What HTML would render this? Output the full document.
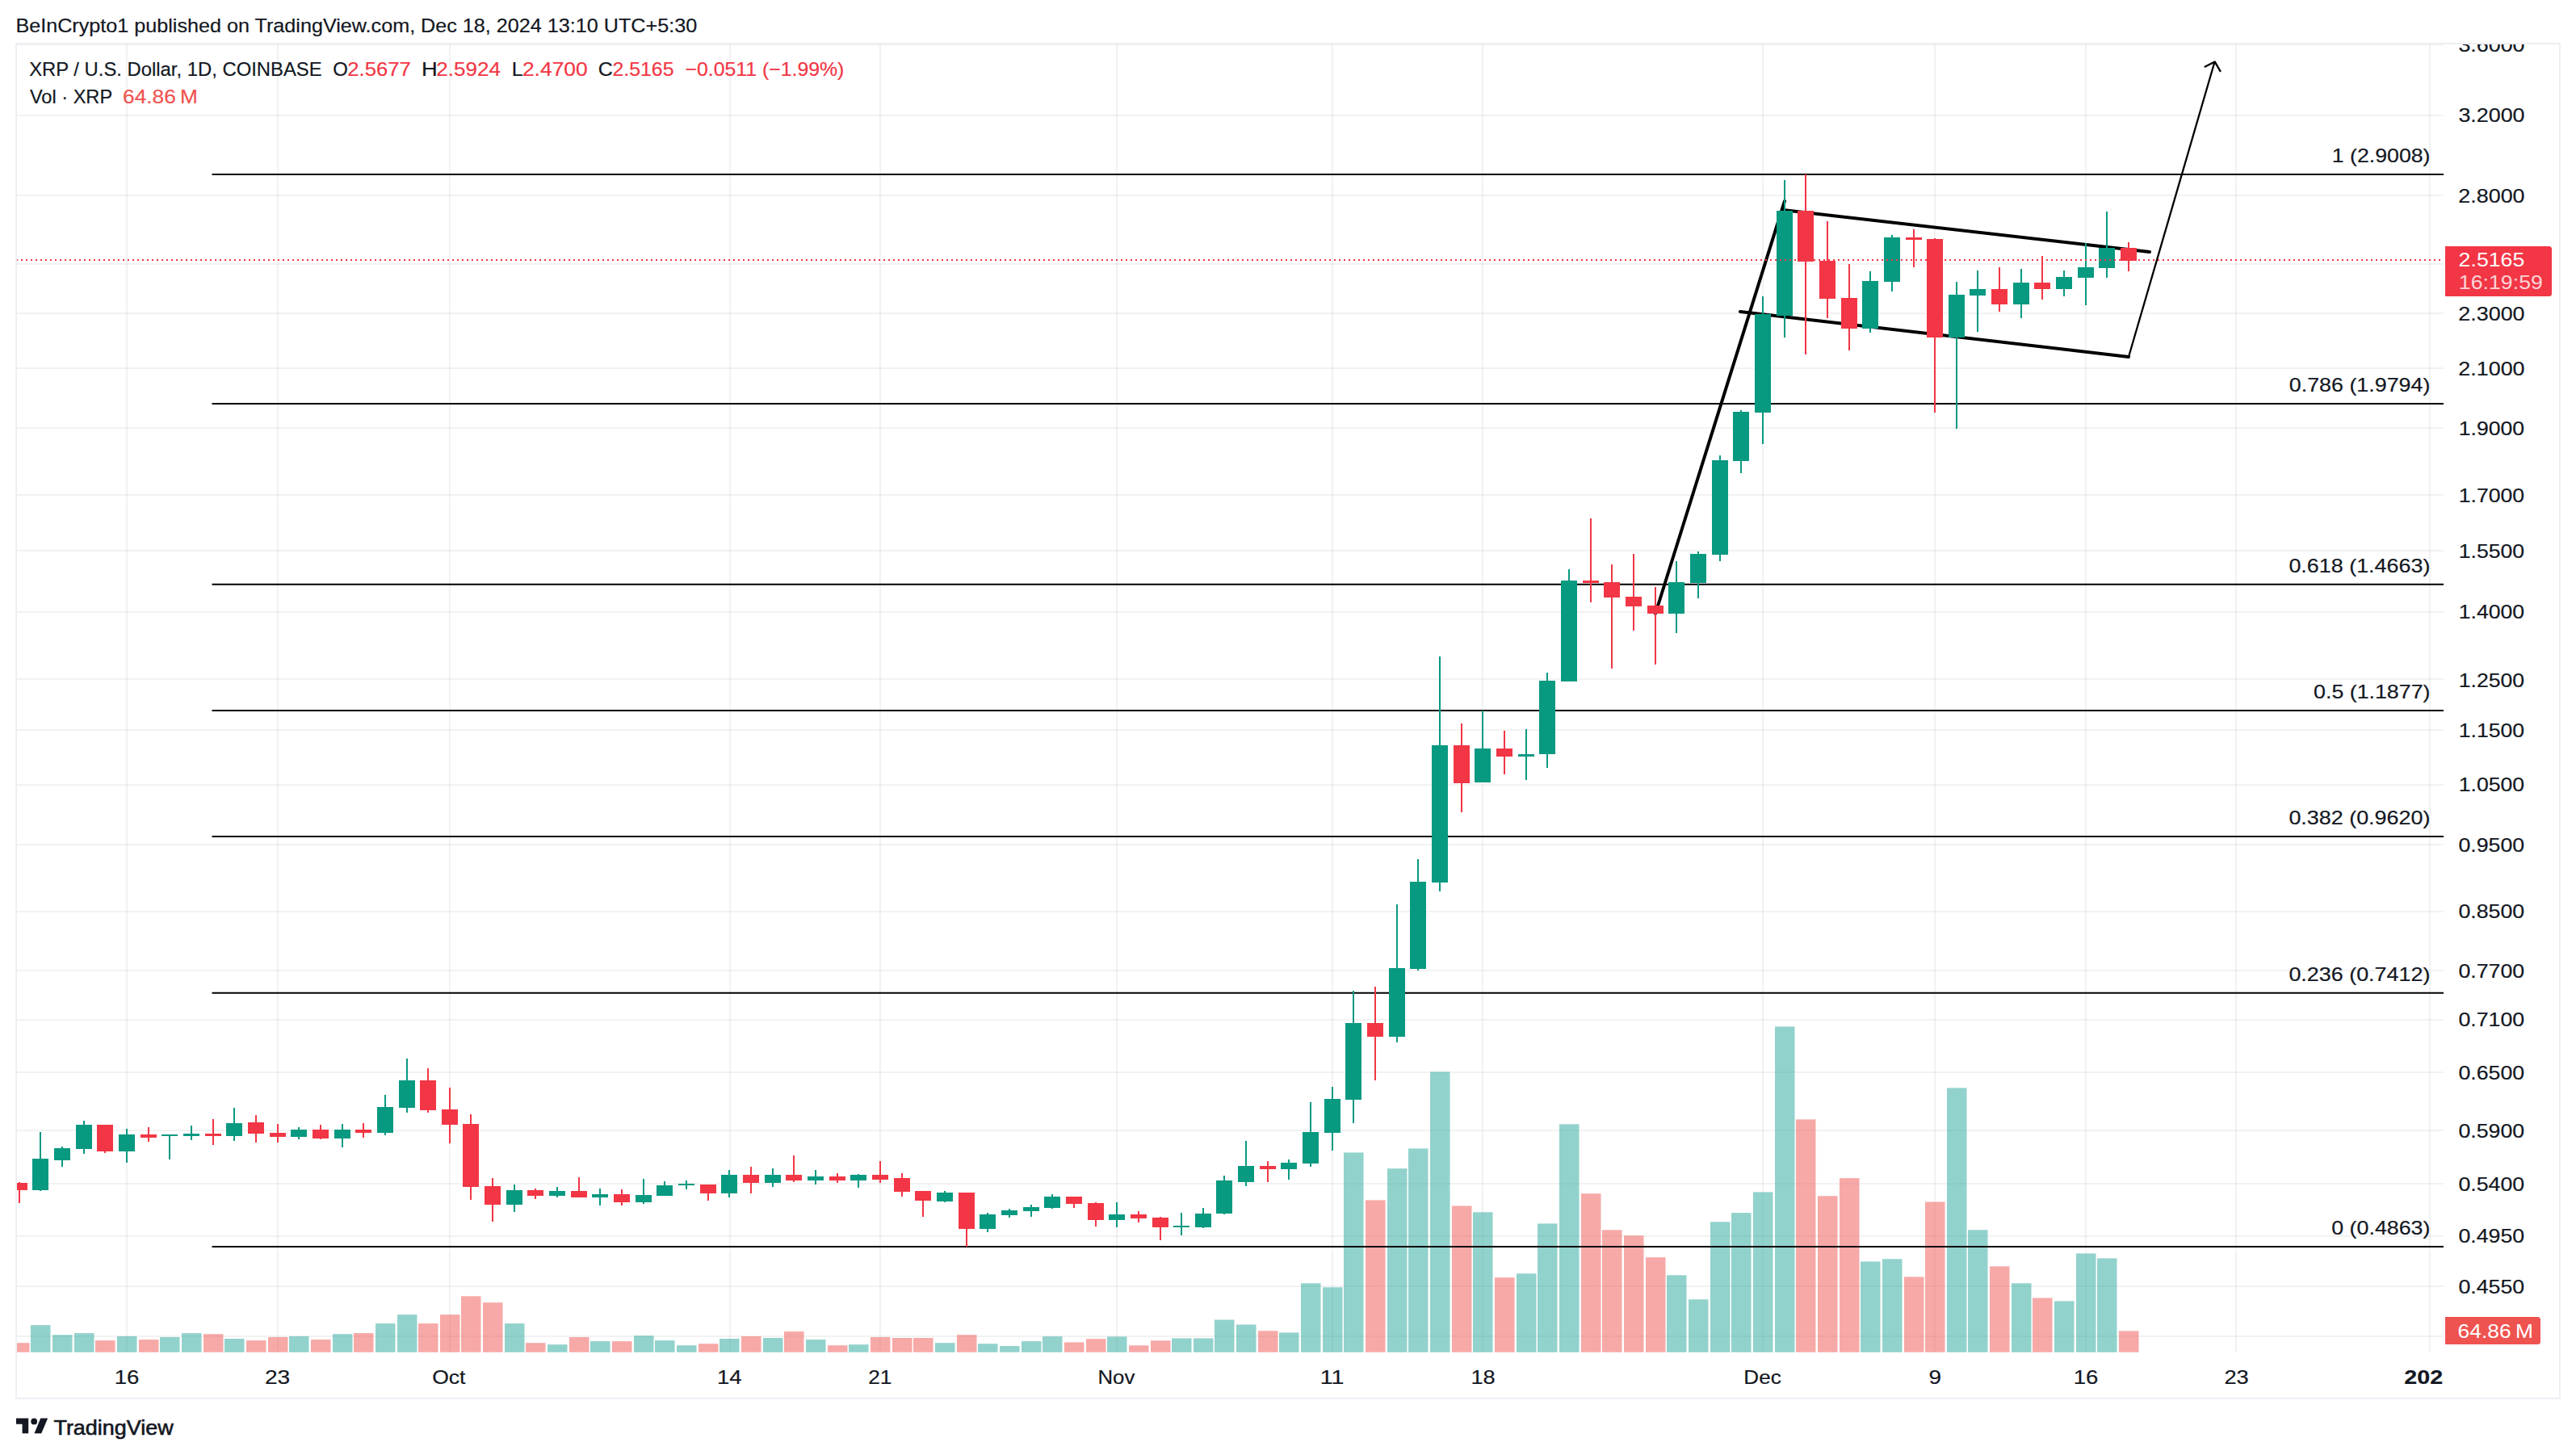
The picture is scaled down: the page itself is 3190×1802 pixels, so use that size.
<!DOCTYPE html>
<html lang="en"><head><meta charset="utf-8"><title>XRP / U.S. Dollar chart</title><style>html,body{margin:0;padding:0;background:#fff}svg{display:block}</style></head><body>
<svg width="3190" height="1802" viewBox="0 0 3190 1802" font-family="'Liberation Sans', sans-serif" font-size="24.5" fill="#131722" shape-rendering="auto">
<style>text{stroke-width:0.2px;stroke:#131722}.r{fill:#f23645;stroke:#f23645}.v{fill:#ef5350;stroke:#ef5350}.w{fill:#fff;stroke:none}</style>
<rect width="3190" height="1802" fill="#fff"/>
<defs><clipPath id="pane"><rect x="20" y="55" width="3006" height="1620"/></clipPath><clipPath id="axis"><rect x="3026" y="55" width="144" height="1620"/></clipPath><clipPath id="taxis"><rect x="20" y="1675" width="3006" height="57"/></clipPath></defs>
<g stroke="#1e2a2a" stroke-opacity="0.06" stroke-width="2.2" clip-path="url(#pane)">
<line x1="20" y1="55.2" x2="3026" y2="55.2"/>
<line x1="20" y1="143" x2="3026" y2="143"/>
<line x1="20" y1="242" x2="3026" y2="242"/>
<line x1="20" y1="327" x2="3026" y2="327"/>
<line x1="20" y1="388" x2="3026" y2="388"/>
<line x1="20" y1="456" x2="3026" y2="456"/>
<line x1="20" y1="530" x2="3026" y2="530"/>
<line x1="20" y1="613" x2="3026" y2="613"/>
<line x1="20" y1="682" x2="3026" y2="682"/>
<line x1="20" y1="758" x2="3026" y2="758"/>
<line x1="20" y1="841" x2="3026" y2="841"/>
<line x1="20" y1="904" x2="3026" y2="904"/>
<line x1="20" y1="972" x2="3026" y2="972"/>
<line x1="20" y1="1046" x2="3026" y2="1046"/>
<line x1="20" y1="1129" x2="3026" y2="1129"/>
<line x1="20" y1="1202" x2="3026" y2="1202"/>
<line x1="20" y1="1263" x2="3026" y2="1263"/>
<line x1="20" y1="1328" x2="3026" y2="1328"/>
<line x1="20" y1="1400" x2="3026" y2="1400"/>
<line x1="20" y1="1466" x2="3026" y2="1466"/>
<line x1="20" y1="1531" x2="3026" y2="1531"/>
<line x1="20" y1="1593" x2="3026" y2="1593"/>
<line x1="20" y1="1655" x2="3026" y2="1655"/>
<line x1="157" y1="55" x2="157" y2="1675"/>
<line x1="344" y1="55" x2="344" y2="1675"/>
<line x1="557" y1="55" x2="557" y2="1675"/>
<line x1="904" y1="55" x2="904" y2="1675"/>
<line x1="1090" y1="55" x2="1090" y2="1675"/>
<line x1="1383" y1="55" x2="1383" y2="1675"/>
<line x1="1650" y1="55" x2="1650" y2="1675"/>
<line x1="1836" y1="55" x2="1836" y2="1675"/>
<line x1="2183" y1="55" x2="2183" y2="1675"/>
<line x1="2396" y1="55" x2="2396" y2="1675"/>
<line x1="2583" y1="55" x2="2583" y2="1675"/>
<line x1="2769" y1="55" x2="2769" y2="1675"/>
<line x1="3009" y1="55" x2="3009" y2="1675"/>
</g>
<g clip-path="url(#pane)">
<rect x="12" y="1663.2" width="24.5" height="11.5" fill="rgba(239,83,80,0.5)"/>
<rect x="38" y="1641.1" width="24.5" height="33.6" fill="rgba(38,166,154,0.5)"/>
<rect x="65" y="1653.2" width="24.5" height="21.5" fill="rgba(38,166,154,0.5)"/>
<rect x="92" y="1651.1" width="24.5" height="23.6" fill="rgba(38,166,154,0.5)"/>
<rect x="118" y="1660.1" width="24.5" height="14.6" fill="rgba(239,83,80,0.5)"/>
<rect x="145" y="1655.0" width="24.5" height="19.7" fill="rgba(38,166,154,0.5)"/>
<rect x="172" y="1659.1" width="24.5" height="15.6" fill="rgba(239,83,80,0.5)"/>
<rect x="198" y="1656.0" width="24.5" height="18.7" fill="rgba(38,166,154,0.5)"/>
<rect x="225" y="1651.1" width="24.5" height="23.6" fill="rgba(38,166,154,0.5)"/>
<rect x="252" y="1652.2" width="24.5" height="22.5" fill="rgba(239,83,80,0.5)"/>
<rect x="278" y="1658.0" width="24.5" height="16.7" fill="rgba(38,166,154,0.5)"/>
<rect x="305" y="1660.1" width="24.5" height="14.6" fill="rgba(239,83,80,0.5)"/>
<rect x="332" y="1656.0" width="24.5" height="18.7" fill="rgba(239,83,80,0.5)"/>
<rect x="358" y="1655.0" width="24.5" height="19.7" fill="rgba(38,166,154,0.5)"/>
<rect x="385" y="1659.1" width="24.5" height="15.6" fill="rgba(239,83,80,0.5)"/>
<rect x="412" y="1652.2" width="24.5" height="22.5" fill="rgba(38,166,154,0.5)"/>
<rect x="438" y="1651.1" width="24.5" height="23.6" fill="rgba(239,83,80,0.5)"/>
<rect x="465" y="1639.1" width="24.5" height="35.6" fill="rgba(38,166,154,0.5)"/>
<rect x="492" y="1628.1" width="24.5" height="46.6" fill="rgba(38,166,154,0.5)"/>
<rect x="518" y="1639.1" width="24.5" height="35.6" fill="rgba(239,83,80,0.5)"/>
<rect x="545" y="1628.1" width="24.5" height="46.6" fill="rgba(239,83,80,0.5)"/>
<rect x="571" y="1605.3" width="24.5" height="69.4" fill="rgba(239,83,80,0.5)"/>
<rect x="598" y="1613.2" width="24.5" height="61.5" fill="rgba(239,83,80,0.5)"/>
<rect x="625" y="1639.1" width="24.5" height="35.6" fill="rgba(38,166,154,0.5)"/>
<rect x="651" y="1663.2" width="24.5" height="11.5" fill="rgba(239,83,80,0.5)"/>
<rect x="678" y="1665.2" width="24.5" height="9.5" fill="rgba(38,166,154,0.5)"/>
<rect x="705" y="1656.0" width="24.5" height="18.7" fill="rgba(239,83,80,0.5)"/>
<rect x="731" y="1661.1" width="24.5" height="13.6" fill="rgba(38,166,154,0.5)"/>
<rect x="758" y="1661.1" width="24.5" height="13.6" fill="rgba(239,83,80,0.5)"/>
<rect x="785" y="1654.2" width="24.5" height="20.5" fill="rgba(38,166,154,0.5)"/>
<rect x="811" y="1660.1" width="24.5" height="14.6" fill="rgba(38,166,154,0.5)"/>
<rect x="838" y="1666.2" width="24.5" height="8.5" fill="rgba(38,166,154,0.5)"/>
<rect x="865" y="1664.2" width="24.5" height="10.5" fill="rgba(239,83,80,0.5)"/>
<rect x="891" y="1658.0" width="24.5" height="16.7" fill="rgba(38,166,154,0.5)"/>
<rect x="918" y="1655.0" width="24.5" height="19.7" fill="rgba(239,83,80,0.5)"/>
<rect x="945" y="1657.0" width="24.5" height="17.7" fill="rgba(38,166,154,0.5)"/>
<rect x="971" y="1649.1" width="24.5" height="25.6" fill="rgba(239,83,80,0.5)"/>
<rect x="998" y="1659.1" width="24.5" height="15.6" fill="rgba(38,166,154,0.5)"/>
<rect x="1025" y="1666.2" width="24.5" height="8.5" fill="rgba(239,83,80,0.5)"/>
<rect x="1051" y="1665.2" width="24.5" height="9.5" fill="rgba(38,166,154,0.5)"/>
<rect x="1078" y="1656.0" width="24.5" height="18.7" fill="rgba(239,83,80,0.5)"/>
<rect x="1105" y="1657.0" width="24.5" height="17.7" fill="rgba(239,83,80,0.5)"/>
<rect x="1131" y="1657.0" width="24.5" height="17.7" fill="rgba(239,83,80,0.5)"/>
<rect x="1158" y="1663.2" width="24.5" height="11.5" fill="rgba(38,166,154,0.5)"/>
<rect x="1185" y="1653.2" width="24.5" height="21.5" fill="rgba(239,83,80,0.5)"/>
<rect x="1211" y="1664.2" width="24.5" height="10.5" fill="rgba(38,166,154,0.5)"/>
<rect x="1238" y="1667.0" width="24.5" height="7.7" fill="rgba(38,166,154,0.5)"/>
<rect x="1265" y="1661.1" width="24.5" height="13.6" fill="rgba(38,166,154,0.5)"/>
<rect x="1291" y="1655.2" width="24.5" height="19.5" fill="rgba(38,166,154,0.5)"/>
<rect x="1318" y="1662.4" width="24.5" height="12.3" fill="rgba(239,83,80,0.5)"/>
<rect x="1345" y="1658.2" width="24.5" height="16.5" fill="rgba(239,83,80,0.5)"/>
<rect x="1371" y="1655.4" width="24.5" height="19.3" fill="rgba(38,166,154,0.5)"/>
<rect x="1398" y="1666.3" width="24.5" height="8.4" fill="rgba(239,83,80,0.5)"/>
<rect x="1425" y="1660.3" width="24.5" height="14.4" fill="rgba(239,83,80,0.5)"/>
<rect x="1451" y="1657.5" width="24.5" height="17.2" fill="rgba(38,166,154,0.5)"/>
<rect x="1478" y="1657.5" width="24.5" height="17.2" fill="rgba(38,166,154,0.5)"/>
<rect x="1504" y="1634.5" width="24.5" height="40.2" fill="rgba(38,166,154,0.5)"/>
<rect x="1531" y="1640.5" width="24.5" height="34.2" fill="rgba(38,166,154,0.5)"/>
<rect x="1558" y="1648.3" width="24.5" height="26.4" fill="rgba(239,83,80,0.5)"/>
<rect x="1584" y="1650.4" width="24.5" height="24.3" fill="rgba(38,166,154,0.5)"/>
<rect x="1611" y="1589.3" width="24.5" height="85.4" fill="rgba(38,166,154,0.5)"/>
<rect x="1638" y="1594.3" width="24.5" height="80.4" fill="rgba(38,166,154,0.5)"/>
<rect x="1664" y="1427.4" width="24.5" height="247.3" fill="rgba(38,166,154,0.5)"/>
<rect x="1691" y="1486.4" width="24.5" height="188.3" fill="rgba(239,83,80,0.5)"/>
<rect x="1718" y="1447.2" width="24.5" height="227.5" fill="rgba(38,166,154,0.5)"/>
<rect x="1744" y="1422.4" width="24.5" height="252.3" fill="rgba(38,166,154,0.5)"/>
<rect x="1771" y="1327.4" width="24.5" height="347.3" fill="rgba(38,166,154,0.5)"/>
<rect x="1798" y="1493.5" width="24.5" height="181.2" fill="rgba(239,83,80,0.5)"/>
<rect x="1824" y="1501.3" width="24.5" height="173.4" fill="rgba(38,166,154,0.5)"/>
<rect x="1851" y="1582.2" width="24.5" height="92.5" fill="rgba(239,83,80,0.5)"/>
<rect x="1878" y="1577.3" width="24.5" height="97.4" fill="rgba(38,166,154,0.5)"/>
<rect x="1904" y="1515.4" width="24.5" height="159.3" fill="rgba(38,166,154,0.5)"/>
<rect x="1931" y="1392.3" width="24.5" height="282.4" fill="rgba(38,166,154,0.5)"/>
<rect x="1958" y="1478.2" width="24.5" height="196.5" fill="rgba(239,83,80,0.5)"/>
<rect x="1984" y="1523.3" width="24.5" height="151.4" fill="rgba(239,83,80,0.5)"/>
<rect x="2011" y="1530.3" width="24.5" height="144.4" fill="rgba(239,83,80,0.5)"/>
<rect x="2038" y="1557.2" width="24.5" height="117.5" fill="rgba(239,83,80,0.5)"/>
<rect x="2064" y="1579.3" width="24.5" height="95.4" fill="rgba(38,166,154,0.5)"/>
<rect x="2091" y="1609.3" width="24.5" height="65.4" fill="rgba(38,166,154,0.5)"/>
<rect x="2118" y="1513.3" width="24.5" height="161.4" fill="rgba(38,166,154,0.5)"/>
<rect x="2144" y="1502.1" width="24.5" height="172.6" fill="rgba(38,166,154,0.5)"/>
<rect x="2171" y="1476.4" width="24.5" height="198.3" fill="rgba(38,166,154,0.5)"/>
<rect x="2198" y="1271.4" width="24.5" height="403.3" fill="rgba(38,166,154,0.5)"/>
<rect x="2224" y="1386.4" width="24.5" height="288.3" fill="rgba(239,83,80,0.5)"/>
<rect x="2251" y="1481.2" width="24.5" height="193.5" fill="rgba(239,83,80,0.5)"/>
<rect x="2278" y="1459.1" width="24.5" height="215.6" fill="rgba(239,83,80,0.5)"/>
<rect x="2304" y="1562.4" width="24.5" height="112.3" fill="rgba(38,166,154,0.5)"/>
<rect x="2331" y="1559.3" width="24.5" height="115.4" fill="rgba(38,166,154,0.5)"/>
<rect x="2358" y="1581.4" width="24.5" height="93.3" fill="rgba(239,83,80,0.5)"/>
<rect x="2384" y="1488.5" width="24.5" height="186.2" fill="rgba(239,83,80,0.5)"/>
<rect x="2411" y="1347.4" width="24.5" height="327.3" fill="rgba(38,166,154,0.5)"/>
<rect x="2437" y="1523.3" width="24.5" height="151.4" fill="rgba(38,166,154,0.5)"/>
<rect x="2464" y="1568.4" width="24.5" height="106.3" fill="rgba(239,83,80,0.5)"/>
<rect x="2491" y="1589.3" width="24.5" height="85.4" fill="rgba(38,166,154,0.5)"/>
<rect x="2517" y="1607.5" width="24.5" height="67.2" fill="rgba(239,83,80,0.5)"/>
<rect x="2544" y="1611.4" width="24.5" height="63.3" fill="rgba(38,166,154,0.5)"/>
<rect x="2571" y="1552.4" width="24.5" height="122.3" fill="rgba(38,166,154,0.5)"/>
<rect x="2597" y="1558.4" width="24.5" height="116.3" fill="rgba(38,166,154,0.5)"/>
<rect x="2624" y="1648.4" width="24.5" height="26.3" fill="rgba(239,83,80,0.5)"/>
</g>
<g clip-path="url(#pane)">
<line x1="262.5" y1="216" x2="3026" y2="216" stroke="#000" stroke-width="2"/>
<line x1="262.5" y1="500.1" x2="3026" y2="500.1" stroke="#000" stroke-width="2"/>
<line x1="262.5" y1="723.7" x2="3026" y2="723.7" stroke="#000" stroke-width="2"/>
<line x1="262.5" y1="879.9" x2="3026" y2="879.9" stroke="#000" stroke-width="2"/>
<line x1="262.5" y1="1036.1" x2="3026" y2="1036.1" stroke="#000" stroke-width="2"/>
<line x1="262.5" y1="1229.7" x2="3026" y2="1229.7" stroke="#000" stroke-width="2"/>
<line x1="262.5" y1="1544" x2="3026" y2="1544" stroke="#000" stroke-width="2"/>
</g>
<text x="2887.87" y="200.8" textLength="121.60" lengthAdjust="spacingAndGlyphs">1 (2.9008)</text>
<text x="2834.74" y="484.9" textLength="174.66" lengthAdjust="spacingAndGlyphs">0.786 (1.9794)</text>
<text x="2834.40" y="708.5" textLength="175.00" lengthAdjust="spacingAndGlyphs">0.618 (1.4663)</text>
<text x="2865.05" y="864.7" textLength="144.40" lengthAdjust="spacingAndGlyphs">0.5 (1.1877)</text>
<text x="2834.40" y="1020.9" textLength="175.00" lengthAdjust="spacingAndGlyphs">0.382 (0.9620)</text>
<text x="2834.40" y="1214.5" textLength="175.00" lengthAdjust="spacingAndGlyphs">0.236 (0.7412)</text>
<text x="2887.27" y="1528.8" textLength="122.15" lengthAdjust="spacingAndGlyphs">0 (0.4863)</text>
<g stroke="#000" fill="none" stroke-linecap="round" clip-path="url(#pane)">
<line x1="2050" y1="760" x2="2210" y2="249" stroke-width="4"/>
<line x1="2208" y1="260" x2="2662" y2="312" stroke-width="4"/>
<line x1="2155" y1="386" x2="2636" y2="442" stroke-width="4"/>
<line x1="2636" y1="442" x2="2742.4" y2="77" stroke-width="2.3"/>
<polyline points="2729.8,83.1 2742.7,76.4 2749.9,88.8" stroke-width="2.3" stroke-linejoin="round" stroke-linecap="butt"/>
</g>
<g clip-path="url(#pane)" shape-rendering="crispEdges">
<rect x="23" y="1464" width="2" height="26" fill="#f23645"/>
<rect x="14" y="1465" width="20" height="9" fill="#f23645"/>
<rect x="49" y="1402" width="2" height="73" fill="#089981"/>
<rect x="40" y="1435" width="20" height="39" fill="#089981"/>
<rect x="76" y="1420" width="2" height="25" fill="#089981"/>
<rect x="67" y="1422" width="20" height="15" fill="#089981"/>
<rect x="103" y="1388" width="2" height="41" fill="#089981"/>
<rect x="94" y="1393" width="20" height="30" fill="#089981"/>
<rect x="129" y="1393" width="2" height="35" fill="#f23645"/>
<rect x="120" y="1393" width="20" height="33" fill="#f23645"/>
<rect x="156" y="1398" width="2" height="42" fill="#089981"/>
<rect x="147" y="1405" width="20" height="21" fill="#089981"/>
<rect x="183" y="1396" width="2" height="18" fill="#f23645"/>
<rect x="174" y="1405" width="20" height="4" fill="#f23645"/>
<rect x="209" y="1405" width="2" height="31" fill="#089981"/>
<rect x="200" y="1405" width="20" height="2" fill="#089981"/>
<rect x="236" y="1394" width="2" height="18" fill="#089981"/>
<rect x="227" y="1404" width="20" height="3" fill="#089981"/>
<rect x="263" y="1386" width="2" height="32" fill="#f23645"/>
<rect x="254" y="1404" width="20" height="3" fill="#f23645"/>
<rect x="289" y="1372" width="2" height="41" fill="#089981"/>
<rect x="280" y="1391" width="20" height="16" fill="#089981"/>
<rect x="316" y="1381" width="2" height="34" fill="#f23645"/>
<rect x="307" y="1390" width="20" height="14" fill="#f23645"/>
<rect x="343" y="1392" width="2" height="23" fill="#f23645"/>
<rect x="334" y="1403" width="20" height="5" fill="#f23645"/>
<rect x="369" y="1396" width="2" height="15" fill="#089981"/>
<rect x="360" y="1399" width="20" height="9" fill="#089981"/>
<rect x="396" y="1393" width="2" height="18" fill="#f23645"/>
<rect x="387" y="1399" width="20" height="11" fill="#f23645"/>
<rect x="423" y="1392" width="2" height="29" fill="#089981"/>
<rect x="414" y="1399" width="20" height="11" fill="#089981"/>
<rect x="449" y="1391" width="2" height="18" fill="#f23645"/>
<rect x="440" y="1399" width="20" height="4" fill="#f23645"/>
<rect x="476" y="1356" width="2" height="50" fill="#089981"/>
<rect x="467" y="1371" width="20" height="32" fill="#089981"/>
<rect x="503" y="1311" width="2" height="67" fill="#089981"/>
<rect x="494" y="1338" width="20" height="34" fill="#089981"/>
<rect x="529" y="1323" width="2" height="55" fill="#f23645"/>
<rect x="520" y="1338" width="20" height="37" fill="#f23645"/>
<rect x="556" y="1347" width="2" height="69" fill="#f23645"/>
<rect x="547" y="1374" width="20" height="19" fill="#f23645"/>
<rect x="582" y="1380" width="2" height="106" fill="#f23645"/>
<rect x="573" y="1392" width="20" height="78" fill="#f23645"/>
<rect x="609" y="1459" width="2" height="54" fill="#f23645"/>
<rect x="600" y="1469" width="20" height="23" fill="#f23645"/>
<rect x="636" y="1467" width="2" height="34" fill="#089981"/>
<rect x="627" y="1474" width="20" height="18" fill="#089981"/>
<rect x="662" y="1472" width="2" height="13" fill="#f23645"/>
<rect x="653" y="1474" width="20" height="7" fill="#f23645"/>
<rect x="689" y="1470" width="2" height="13" fill="#089981"/>
<rect x="680" y="1475" width="20" height="6" fill="#089981"/>
<rect x="716" y="1458" width="2" height="25" fill="#f23645"/>
<rect x="707" y="1475" width="20" height="8" fill="#f23645"/>
<rect x="742" y="1472" width="2" height="21" fill="#089981"/>
<rect x="733" y="1479" width="20" height="4" fill="#089981"/>
<rect x="769" y="1473" width="2" height="20" fill="#f23645"/>
<rect x="760" y="1479" width="20" height="10" fill="#f23645"/>
<rect x="796" y="1460" width="2" height="31" fill="#089981"/>
<rect x="787" y="1480" width="20" height="9" fill="#089981"/>
<rect x="822" y="1463" width="2" height="18" fill="#089981"/>
<rect x="813" y="1468" width="20" height="13" fill="#089981"/>
<rect x="849" y="1462" width="2" height="11" fill="#089981"/>
<rect x="840" y="1466" width="20" height="2" fill="#089981"/>
<rect x="876" y="1467" width="2" height="20" fill="#f23645"/>
<rect x="867" y="1467" width="20" height="11" fill="#f23645"/>
<rect x="902" y="1449" width="2" height="34" fill="#089981"/>
<rect x="893" y="1455" width="20" height="23" fill="#089981"/>
<rect x="929" y="1445" width="2" height="33" fill="#f23645"/>
<rect x="920" y="1455" width="20" height="10" fill="#f23645"/>
<rect x="956" y="1447" width="2" height="23" fill="#089981"/>
<rect x="947" y="1455" width="20" height="10" fill="#089981"/>
<rect x="982" y="1431" width="2" height="33" fill="#f23645"/>
<rect x="973" y="1455" width="20" height="7" fill="#f23645"/>
<rect x="1009" y="1449" width="2" height="18" fill="#089981"/>
<rect x="1000" y="1457" width="20" height="5" fill="#089981"/>
<rect x="1036" y="1453" width="2" height="12" fill="#f23645"/>
<rect x="1027" y="1457" width="20" height="5" fill="#f23645"/>
<rect x="1062" y="1454" width="2" height="17" fill="#089981"/>
<rect x="1053" y="1455" width="20" height="7" fill="#089981"/>
<rect x="1089" y="1438" width="2" height="27" fill="#f23645"/>
<rect x="1080" y="1455" width="20" height="6" fill="#f23645"/>
<rect x="1116" y="1453" width="2" height="29" fill="#f23645"/>
<rect x="1107" y="1459" width="20" height="17" fill="#f23645"/>
<rect x="1142" y="1475" width="2" height="32" fill="#f23645"/>
<rect x="1133" y="1475" width="20" height="12" fill="#f23645"/>
<rect x="1169" y="1475" width="2" height="14" fill="#089981"/>
<rect x="1160" y="1477" width="20" height="11" fill="#089981"/>
<rect x="1196" y="1477" width="2" height="67" fill="#f23645"/>
<rect x="1187" y="1477" width="20" height="45" fill="#f23645"/>
<rect x="1222" y="1502" width="2" height="24" fill="#089981"/>
<rect x="1213" y="1504" width="20" height="18" fill="#089981"/>
<rect x="1249" y="1497" width="2" height="11" fill="#089981"/>
<rect x="1240" y="1499" width="20" height="6" fill="#089981"/>
<rect x="1276" y="1492" width="2" height="15" fill="#089981"/>
<rect x="1267" y="1495" width="20" height="5" fill="#089981"/>
<rect x="1302" y="1479" width="2" height="18" fill="#089981"/>
<rect x="1293" y="1482" width="20" height="14" fill="#089981"/>
<rect x="1329" y="1482" width="2" height="14" fill="#f23645"/>
<rect x="1320" y="1482" width="20" height="9" fill="#f23645"/>
<rect x="1356" y="1489" width="2" height="30" fill="#f23645"/>
<rect x="1347" y="1490" width="20" height="21" fill="#f23645"/>
<rect x="1382" y="1489" width="2" height="31" fill="#089981"/>
<rect x="1373" y="1504" width="20" height="7" fill="#089981"/>
<rect x="1409" y="1500" width="2" height="14" fill="#f23645"/>
<rect x="1400" y="1504" width="20" height="5" fill="#f23645"/>
<rect x="1436" y="1507" width="2" height="29" fill="#f23645"/>
<rect x="1427" y="1508" width="20" height="12" fill="#f23645"/>
<rect x="1462" y="1502" width="2" height="28" fill="#089981"/>
<rect x="1453" y="1518" width="20" height="2" fill="#089981"/>
<rect x="1489" y="1496" width="2" height="25" fill="#089981"/>
<rect x="1480" y="1503" width="20" height="17" fill="#089981"/>
<rect x="1515" y="1456" width="2" height="48" fill="#089981"/>
<rect x="1506" y="1462" width="20" height="41" fill="#089981"/>
<rect x="1542" y="1413" width="2" height="56" fill="#089981"/>
<rect x="1533" y="1444" width="20" height="20" fill="#089981"/>
<rect x="1569" y="1438" width="2" height="26" fill="#f23645"/>
<rect x="1560" y="1444" width="20" height="4" fill="#f23645"/>
<rect x="1595" y="1436" width="2" height="25" fill="#089981"/>
<rect x="1586" y="1440" width="20" height="8" fill="#089981"/>
<rect x="1622" y="1365" width="2" height="80" fill="#089981"/>
<rect x="1613" y="1402" width="20" height="39" fill="#089981"/>
<rect x="1649" y="1346" width="2" height="79" fill="#089981"/>
<rect x="1640" y="1361" width="20" height="42" fill="#089981"/>
<rect x="1675" y="1227" width="2" height="164" fill="#089981"/>
<rect x="1666" y="1267" width="20" height="95" fill="#089981"/>
<rect x="1702" y="1222" width="2" height="116" fill="#f23645"/>
<rect x="1693" y="1267" width="20" height="17" fill="#f23645"/>
<rect x="1729" y="1120" width="2" height="171" fill="#089981"/>
<rect x="1720" y="1199" width="20" height="85" fill="#089981"/>
<rect x="1755" y="1064" width="2" height="138" fill="#089981"/>
<rect x="1746" y="1092" width="20" height="108" fill="#089981"/>
<rect x="1782" y="813" width="2" height="291" fill="#089981"/>
<rect x="1773" y="923" width="20" height="170" fill="#089981"/>
<rect x="1809" y="896" width="2" height="110" fill="#f23645"/>
<rect x="1800" y="923" width="20" height="47" fill="#f23645"/>
<rect x="1835" y="880" width="2" height="89" fill="#089981"/>
<rect x="1826" y="927" width="20" height="42" fill="#089981"/>
<rect x="1862" y="905" width="2" height="54" fill="#f23645"/>
<rect x="1853" y="927" width="20" height="10" fill="#f23645"/>
<rect x="1889" y="903" width="2" height="63" fill="#089981"/>
<rect x="1880" y="934" width="20" height="3" fill="#089981"/>
<rect x="1915" y="833" width="2" height="118" fill="#089981"/>
<rect x="1906" y="843" width="20" height="91" fill="#089981"/>
<rect x="1942" y="705" width="2" height="139" fill="#089981"/>
<rect x="1933" y="719" width="20" height="125" fill="#089981"/>
<rect x="1969" y="642" width="2" height="104" fill="#f23645"/>
<rect x="1960" y="719" width="20" height="3" fill="#f23645"/>
<rect x="1995" y="699" width="2" height="129" fill="#f23645"/>
<rect x="1986" y="721" width="20" height="19" fill="#f23645"/>
<rect x="2022" y="686" width="2" height="95" fill="#f23645"/>
<rect x="2013" y="739" width="20" height="12" fill="#f23645"/>
<rect x="2049" y="727" width="2" height="96" fill="#f23645"/>
<rect x="2040" y="750" width="20" height="10" fill="#f23645"/>
<rect x="2075" y="695" width="2" height="89" fill="#089981"/>
<rect x="2066" y="721" width="20" height="39" fill="#089981"/>
<rect x="2102" y="683" width="2" height="58" fill="#089981"/>
<rect x="2093" y="686" width="20" height="36" fill="#089981"/>
<rect x="2129" y="564" width="2" height="131" fill="#089981"/>
<rect x="2120" y="570" width="20" height="117" fill="#089981"/>
<rect x="2155" y="508" width="2" height="78" fill="#089981"/>
<rect x="2146" y="510" width="20" height="61" fill="#089981"/>
<rect x="2182" y="367" width="2" height="183" fill="#089981"/>
<rect x="2173" y="389" width="20" height="122" fill="#089981"/>
<rect x="2209" y="223" width="2" height="195" fill="#089981"/>
<rect x="2200" y="261" width="20" height="130" fill="#089981"/>
<rect x="2235" y="216" width="2" height="223" fill="#f23645"/>
<rect x="2226" y="261" width="20" height="63" fill="#f23645"/>
<rect x="2262" y="274" width="2" height="120" fill="#f23645"/>
<rect x="2253" y="323" width="20" height="47" fill="#f23645"/>
<rect x="2289" y="327" width="2" height="107" fill="#f23645"/>
<rect x="2280" y="369" width="20" height="38" fill="#f23645"/>
<rect x="2315" y="336" width="2" height="76" fill="#089981"/>
<rect x="2306" y="348" width="20" height="59" fill="#089981"/>
<rect x="2342" y="291" width="2" height="70" fill="#089981"/>
<rect x="2333" y="294" width="20" height="55" fill="#089981"/>
<rect x="2369" y="284" width="2" height="47" fill="#f23645"/>
<rect x="2360" y="294" width="20" height="3" fill="#f23645"/>
<rect x="2395" y="295" width="2" height="216" fill="#f23645"/>
<rect x="2386" y="296" width="20" height="122" fill="#f23645"/>
<rect x="2422" y="349" width="2" height="182" fill="#089981"/>
<rect x="2413" y="365" width="20" height="53" fill="#089981"/>
<rect x="2448" y="335" width="2" height="76" fill="#089981"/>
<rect x="2439" y="358" width="20" height="8" fill="#089981"/>
<rect x="2475" y="331" width="2" height="55" fill="#f23645"/>
<rect x="2466" y="358" width="20" height="19" fill="#f23645"/>
<rect x="2502" y="333" width="2" height="61" fill="#089981"/>
<rect x="2493" y="350" width="20" height="27" fill="#089981"/>
<rect x="2528" y="317" width="2" height="54" fill="#f23645"/>
<rect x="2519" y="350" width="20" height="8" fill="#f23645"/>
<rect x="2555" y="335" width="2" height="32" fill="#089981"/>
<rect x="2546" y="343" width="20" height="15" fill="#089981"/>
<rect x="2582" y="301" width="2" height="77" fill="#089981"/>
<rect x="2573" y="331" width="20" height="13" fill="#089981"/>
<rect x="2608" y="262" width="2" height="82" fill="#089981"/>
<rect x="2599" y="307" width="20" height="25" fill="#089981"/>
<rect x="2635" y="300" width="2" height="36" fill="#f23645"/>
<rect x="2626" y="307" width="20" height="16" fill="#f23645"/>
</g>
<line x1="20" y1="322" x2="3026" y2="322" stroke="#f23645" stroke-width="2" stroke-dasharray="2 4"/>
<g clip-path="url(#axis)">
<text x="3044.41" y="64.1" textLength="82.16" lengthAdjust="spacingAndGlyphs">3.6000</text>
<text x="3044.41" y="151.1" textLength="82.16" lengthAdjust="spacingAndGlyphs">3.2000</text>
<text x="3044.31" y="251.1" textLength="82.25" lengthAdjust="spacingAndGlyphs">2.8000</text>
<text x="3044.31" y="397.3" textLength="82.25" lengthAdjust="spacingAndGlyphs">2.3000</text>
<text x="3044.31" y="464.9" textLength="82.25" lengthAdjust="spacingAndGlyphs">2.1000</text>
<text x="3044.74" y="539.4" textLength="81.43" lengthAdjust="spacingAndGlyphs">1.9000</text>
<text x="3044.74" y="622.0" textLength="81.43" lengthAdjust="spacingAndGlyphs">1.7000</text>
<text x="3044.74" y="690.7" textLength="81.43" lengthAdjust="spacingAndGlyphs">1.5500</text>
<text x="3044.74" y="766.4" textLength="81.43" lengthAdjust="spacingAndGlyphs">1.4000</text>
<text x="3044.74" y="850.6" textLength="81.43" lengthAdjust="spacingAndGlyphs">1.2500</text>
<text x="3044.74" y="912.6" textLength="81.43" lengthAdjust="spacingAndGlyphs">1.1500</text>
<text x="3044.74" y="980.3" textLength="81.43" lengthAdjust="spacingAndGlyphs">1.0500</text>
<text x="3044.40" y="1054.7" textLength="81.79" lengthAdjust="spacingAndGlyphs">0.9500</text>
<text x="3044.40" y="1137.4" textLength="81.79" lengthAdjust="spacingAndGlyphs">0.8500</text>
<text x="3044.40" y="1210.8" textLength="81.79" lengthAdjust="spacingAndGlyphs">0.7700</text>
<text x="3044.40" y="1271.2" textLength="81.79" lengthAdjust="spacingAndGlyphs">0.7100</text>
<text x="3044.40" y="1336.8" textLength="81.79" lengthAdjust="spacingAndGlyphs">0.6500</text>
<text x="3044.40" y="1408.8" textLength="81.79" lengthAdjust="spacingAndGlyphs">0.5900</text>
<text x="3044.40" y="1474.6" textLength="81.79" lengthAdjust="spacingAndGlyphs">0.5400</text>
<text x="3044.40" y="1539.3" textLength="81.79" lengthAdjust="spacingAndGlyphs">0.4950</text>
<text x="3044.40" y="1602.0" textLength="81.79" lengthAdjust="spacingAndGlyphs">0.4550</text>
</g>
<path d="M3028 305H3156.5a3.5 3.5 0 0 1 3.5 3.5V363.5a3.5 3.5 0 0 1 -3.5 3.5H3028Z" fill="#f23645"/>
<text x="3044.62" y="330.0" class="w" textLength="81.68" lengthAdjust="spacingAndGlyphs">2.5165</text>
<text x="3044.89" y="358.3" class="w" opacity="0.78" textLength="104.01" lengthAdjust="spacingAndGlyphs">16:19:59</text>
<path d="M3028 1631H3142.5a3.5 3.5 0 0 1 3.5 3.5V1661.5a3.5 3.5 0 0 1 -3.5 3.5H3028Z" fill="#ef5350"/>
<text x="3043.64" y="1657.0" class="w" textLength="93.24" lengthAdjust="spacingAndGlyphs">64.86 M</text>
<g clip-path="url(#taxis)">
<text x="141.75" y="1714.3" textLength="30.70" lengthAdjust="spacingAndGlyphs">16</text>
<text x="327.98" y="1714.3" textLength="31.32" lengthAdjust="spacingAndGlyphs">23</text>
<text x="535.21" y="1714.3" textLength="41.31" lengthAdjust="spacingAndGlyphs">Oct</text>
<text x="887.92" y="1714.3" textLength="30.57" lengthAdjust="spacingAndGlyphs">14</text>
<text x="1075.25" y="1714.3" textLength="29.24" lengthAdjust="spacingAndGlyphs">21</text>
<text x="1359.47" y="1714.3" textLength="45.83" lengthAdjust="spacingAndGlyphs">Nov</text>
<text x="1634.72" y="1714.3" textLength="29.69" lengthAdjust="spacingAndGlyphs">11</text>
<text x="1821.47" y="1714.3" textLength="30.26" lengthAdjust="spacingAndGlyphs">18</text>
<text x="2159.33" y="1714.3" textLength="46.35" lengthAdjust="spacingAndGlyphs">Dec</text>
<text x="2388.49" y="1714.3" textLength="15.55" lengthAdjust="spacingAndGlyphs">9</text>
<text x="2567.75" y="1714.3" textLength="30.70" lengthAdjust="spacingAndGlyphs">16</text>
<text x="2754.41" y="1714.3" textLength="30.31" lengthAdjust="spacingAndGlyphs">23</text>
<text x="2977.36" y="1714.3" font-weight="bold" textLength="63.70" lengthAdjust="spacingAndGlyphs">2025</text>
</g>
<rect x="20" y="54" width="3150" height="1678" fill="none" stroke="#eeeff4" stroke-width="2"/>
<text x="19.45" y="39.8" textLength="843.70" lengthAdjust="spacingAndGlyphs">BeInCrypto1 published on TradingView.com, Dec 18, 2024 13:10 UTC+5:30</text>
<text x="36.14" y="94.2" textLength="362.49" lengthAdjust="spacingAndGlyphs">XRP / U.S. Dollar, 1D, COINBASE</text>
<text x="412.18" y="94.2" textLength="18.61" lengthAdjust="spacingAndGlyphs">O</text>
<text x="430.32" y="94.2" class="r" textLength="78.55" lengthAdjust="spacingAndGlyphs">2.5677</text>
<text x="521.91" y="94.2" textLength="19.73" lengthAdjust="spacingAndGlyphs">H</text>
<text x="540.34" y="94.2" class="r" textLength="79.73" lengthAdjust="spacingAndGlyphs">2.5924</text>
<text x="633.68" y="94.2" textLength="13.94" lengthAdjust="spacingAndGlyphs">L</text>
<text x="646.91" y="94.2" class="r" textLength="80.85" lengthAdjust="spacingAndGlyphs">2.4700</text>
<text x="740.87" y="94.2" textLength="18.02" lengthAdjust="spacingAndGlyphs">C</text>
<text x="758.44" y="94.2" class="r" textLength="76.06" lengthAdjust="spacingAndGlyphs">2.5165</text>
<text x="848.47" y="94.2" class="r" textLength="196.91" lengthAdjust="spacingAndGlyphs">−0.0511 (−1.99%)</text>
<text x="36.90" y="127.9" textLength="102.25" lengthAdjust="spacingAndGlyphs">Vol · XRP</text>
<text x="152.07" y="127.9" class="v" textLength="92.81" lengthAdjust="spacingAndGlyphs">64.86 M</text>
<g fill="#131722">
<path d="M20 1756.4H35.2V1775.2H27.6V1763.8H20Z"/>
<circle cx="42.2" cy="1760.4" r="3.9"/>
<path d="M50.3 1756.4H59.2L51.2 1775.2H42.5Z"/>
</g>
<text x="66.41" y="1776.8" font-size="25.5" style="stroke-width:0.6px" textLength="148.41" lengthAdjust="spacingAndGlyphs">TradingView</text>
</svg>
</body></html>
